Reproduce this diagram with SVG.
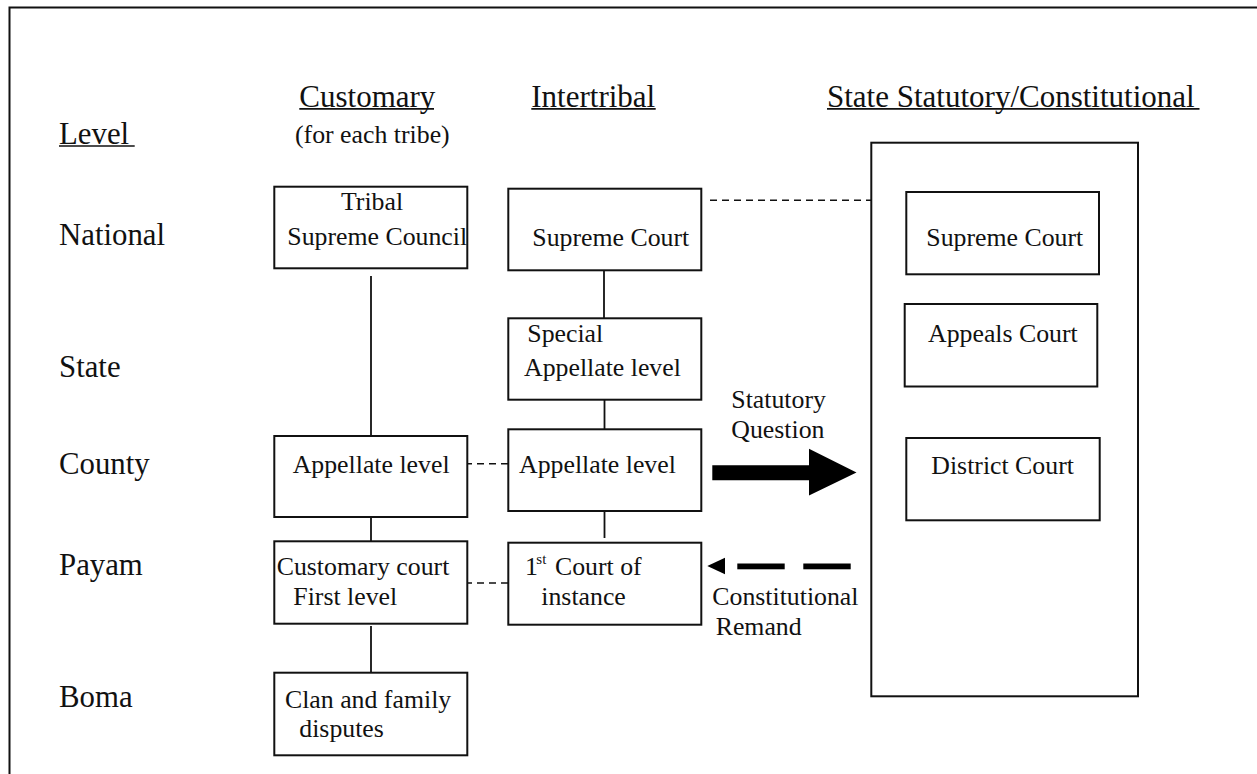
<svg xmlns="http://www.w3.org/2000/svg" width="1257" height="774" viewBox="0 0 1257 774">
<style>
text{font-family:"Liberation Serif","Times New Roman",serif;fill:#111}
.lv{font-size:30.8px}
.hd{font-size:31px}
.bx{font-size:25.8px}
.box{fill:#fff;stroke:#111;stroke-width:2}
.ln{stroke:#111;stroke-width:1.8;fill:none}
.ul{stroke:#111;stroke-width:1.7}
.dash{stroke:#111;stroke-width:1.6;stroke-dasharray:7 5;fill:none}
</style>
<rect width="1257" height="774" fill="#fff"/>
<path d="M1257 7.5H9.5V774" fill="none" stroke="#111" stroke-width="2"/>

<g id="headers">
<text class="lv" x="59" y="144">Level </text>
<line class="ul" x1="59" y1="146" x2="134.7" y2="146"/>
<text class="hd" x="299.3" y="107">Customary</text>
<line class="ul" x1="299.3" y1="108.8" x2="434" y2="108.8"/>
<text class="bx" x="295" y="143">(for each tribe)</text>
<text class="hd" x="531.3" y="107">Intertribal</text>
<line class="ul" x1="531.3" y1="108.8" x2="655.7" y2="108.8"/>
<text class="hd" x="827" y="107">State Statutory/Constitutional</text>
<line class="ul" x1="827" y1="108.8" x2="1199.5" y2="108.8"/>
</g>

<g id="levels">
<text class="lv" x="59" y="245">National</text>
<text class="lv" x="59" y="377">State</text>
<text class="lv" x="59" y="474">County</text>
<text class="lv" x="59" y="575">Payam</text>
<text class="lv" x="59" y="707">Boma</text>
</g>

<g id="connectors">
<line class="ln" x1="371" y1="276" x2="371" y2="438"/>
<line class="ln" x1="371" y1="509" x2="371" y2="541"/>
<line class="ln" x1="371" y1="626" x2="371" y2="674"/>
<line class="ln" x1="604" y1="270" x2="604" y2="318"/>
<line class="ln" x1="604.5" y1="399.5" x2="604.5" y2="432"/>
<line class="ln" x1="604.5" y1="507.5" x2="604.5" y2="538"/>
<line class="ln" x1="993.5" y1="274" x2="993.5" y2="304"/>
<line class="ln" x1="995" y1="386" x2="995" y2="438"/>
<line class="dash" x1="710" y1="200.3" x2="900" y2="200.3"/>
<line class="dash" x1="465" y1="463.7" x2="513" y2="463.7" stroke-dasharray="6 5.5"/>
<line class="ln" x1="465" y1="459.7" x2="465" y2="467.7" stroke-width="1.4"/>
<line class="ln" x1="513.3" y1="459.7" x2="513.3" y2="467.7" stroke-width="1.4"/>
<line class="dash" x1="465" y1="583" x2="513" y2="583" stroke-dasharray="6 5.5"/>
<line class="ln" x1="465" y1="579" x2="465" y2="587" stroke-width="1.4"/>
<line class="ln" x1="513.3" y1="579" x2="513.3" y2="587" stroke-width="1.4"/>
<polygon points="712.3,465.3 809,465.3 809,448.7 856.5,472.5 809,495.5 809,480.3 712.3,480.3" fill="#000"/>
<polygon points="707.3,566 725,557.7 725,574.3" fill="#000"/>
<rect x="737.3" y="563.5" width="47.4" height="5.8" fill="#000"/>
<rect x="803.3" y="563.5" width="47.4" height="5.8" fill="#000"/>
<text class="bx" x="731.3" y="407.7">Statutory</text>
<text class="bx" x="731.3" y="437.7">Question</text>
<text class="bx" x="712.3" y="605.3">Constitutional</text>
<text class="bx" x="715.7" y="635.3">Remand</text>
</g>

<g id="tribal-supreme-council">
<rect class="box" x="274.3" y="186.7" width="193" height="81.6"/>
<text class="bx" x="372" y="210" text-anchor="middle">Tribal</text>
<text class="bx" x="287.3" y="245">Supreme Council</text>
</g>
<g id="customary-appellate">
<rect class="box" x="274.3" y="436" width="193" height="81"/>
<text class="bx" x="292.7" y="473">Appellate level</text>
</g>
<g id="customary-first">
<rect class="box" x="274.3" y="541.3" width="193" height="82.4"/>
<text class="bx" x="276.7" y="575.3">Customary court</text>
<text class="bx" x="293.3" y="605.3">First level</text>
</g>
<g id="clan-family">
<rect class="box" x="274.3" y="672.7" width="193" height="82.6"/>
<text class="bx" x="285" y="707.7">Clan and family</text>
<text class="bx" x="299.3" y="737">disputes</text>
</g>

<g id="intertribal-supreme">
<rect class="box" x="508.3" y="188.7" width="193" height="81.6"/>
<text class="bx" x="532.3" y="245.7">Supreme Court</text>
</g>
<g id="intertribal-special">
<rect class="box" x="508.3" y="318.3" width="193" height="81.4"/>
<text class="bx" x="527.3" y="342">Special</text>
<text class="bx" x="524" y="375.5">Appellate level</text>
</g>
<g id="intertribal-appellate">
<rect class="box" x="508.3" y="429.3" width="193" height="81.7"/>
<text class="bx" x="519" y="473">Appellate level</text>
</g>
<g id="intertribal-first">
<rect class="box" x="508.3" y="542.7" width="193" height="82"/>
<text class="bx" x="525" y="574.7">1</text>
<text x="536.3" y="564" style="font-size:15px">st</text>
<text class="bx" x="555" y="574.7">Court of</text>
<text class="bx" x="541.3" y="605.3">instance</text>
</g>

<g id="state-system">
<rect class="box" x="871.3" y="142.7" width="266.7" height="553.6"/>
</g>
<g id="state-supreme">
<rect class="box" x="906.3" y="192" width="192.7" height="82.3"/>
<text class="bx" x="926.3" y="245.7">Supreme Court</text>
</g>
<g id="state-appeals">
<rect class="box" x="904.7" y="304" width="192.6" height="82.5"/>
<text class="bx" x="928" y="341.7">Appeals Court</text>
</g>
<g id="state-district">
<rect class="box" x="906.3" y="438" width="193.4" height="82.3"/>
<text class="bx" x="931.3" y="473.7">District Court</text>
</g>
</svg>
